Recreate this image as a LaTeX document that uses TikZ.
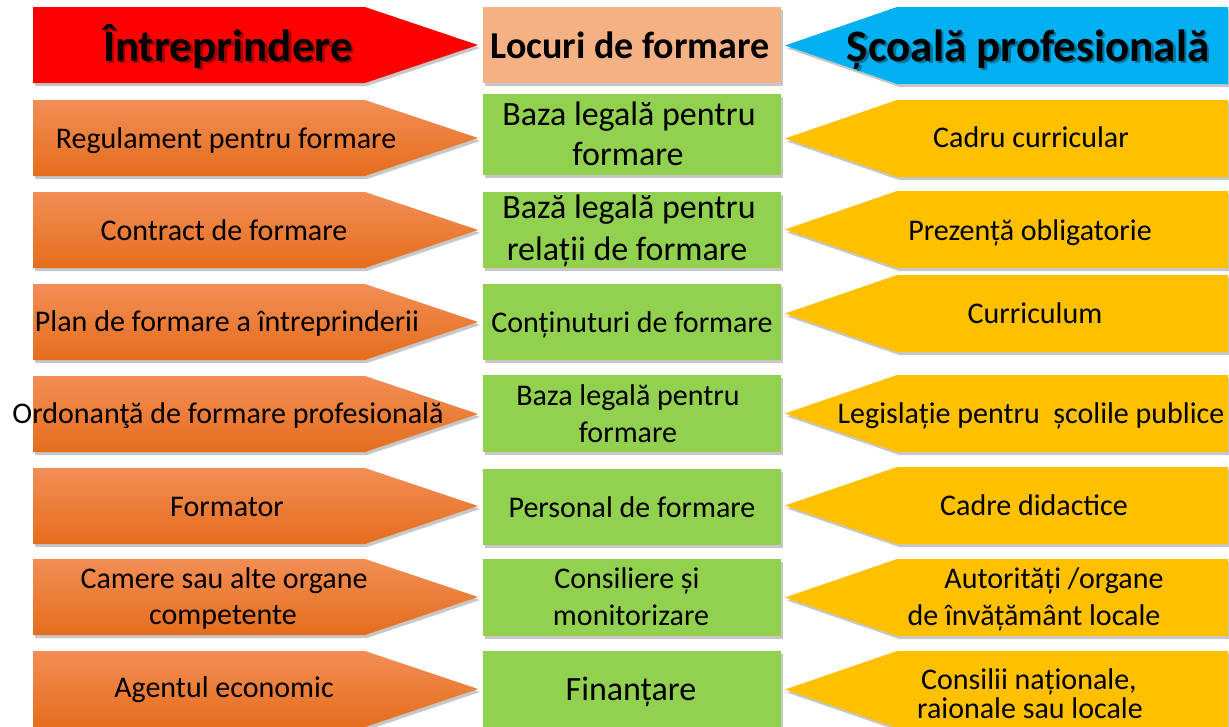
\documentclass[tikz,border=0pt]{standalone}
\usepackage{fontspec}
\setmainfont{Carlito}
\definecolor{hdrred}{HTML}{FF0000}
\definecolor{hdrblue}{HTML}{00B0F0}
\definecolor{hdrpeach}{HTML}{F4B183}
\definecolor{midgreen}{HTML}{92D050}
\definecolor{rgtyellow}{HTML}{FFC000}
\definecolor{orgtop}{HTML}{F28E55}
\definecolor{orgbot}{HTML}{E56D1D}
\tikzset{
  orangefill/.style={top color=orgtop, bottom color=orgbot},
  yellowfill/.style={fill=rgtyellow},
  greenfill/.style={fill=midgreen},
  shadowfill/.style={fill=black, opacity=0.22},
  txt/.style={anchor=base, inner sep=0pt, font=\fontsize{30}{36}\selectfont},
  bigtxt/.style={anchor=base, inner sep=0pt, font=\fontsize{34}{40}\selectfont},
  hdrtxt/.style={anchor=base, inner sep=0pt, font=\fontsize{45}{50}\selectfont\bfseries},
  midhdrtxt/.style={anchor=base, inner sep=0pt, font=\fontsize{38}{44}\selectfont\bfseries},
  hdrshadow/.style={text=black, text opacity=0.35}
}
% left pentagon: #1 top, #2 fill style
\newcommand\lpent[2]{%
  \fill[shadowfill] (35,#1+3) -- (367,#1+3) -- (480,#1+41) -- (367,#1+79) -- (35,#1+79) -- cycle;
  \path[#2] (33,#1) -- (365,#1) -- (478,#1+38) -- (365,#1+76) -- (33,#1+76) -- cycle;}
% right pentagon
\newcommand\rpent[2]{%
  \fill[shadowfill] (787,#1+41.5) -- (899,#1+3) -- (1230,#1+3) -- (1230,#1+80) -- (899,#1+80) -- cycle;
  \path[#2] (785,#1+38.5) -- (897,#1) -- (1228,#1) -- (1228,#1+77) -- (897,#1+77) -- cycle;}
% middle box: #1 top, #2 height, #3 fill
\newcommand\midbox[3]{%
  \fill[shadowfill] (485,#1+3) rectangle (783,#1+#2+3);
  \path[#3] (483,#1) rectangle (781,#1+#2);}
\begin{document}
\begin{tikzpicture}[x=1pt,y=-1pt]
\useasboundingbox (0,0) rectangle (1229,726);
\fill[white] (0,0) rectangle (1229,726);
% headers
\lpent{7}{fill=hdrred}
\midbox{7}{76}{fill=hdrpeach}
\rpent{7}{fill=hdrblue}
\node[hdrtxt,hdrshadow] (hlS) at (230.5,63.5) {Întreprindere};
\node[hdrtxt] (hl) at (228,61) {Întreprindere};
\node[midhdrtxt] (hm) at (630,58) {Locuri de formare};
\node[hdrtxt,hdrshadow] (hrS) at (1030.5,63.5) {Școală profesională};
\node[hdrtxt] (hr) at (1028,61) {Școală profesională};
% left column
\lpent{100}{orangefill}
\lpent{192}{orangefill}
\lpent{284}{orangefill}
\lpent{376}{orangefill}
\lpent{468}{orangefill}
\lpent{559}{orangefill}
\lpent{651}{orangefill}
% middle column
\midbox{94}{81}{greenfill}
\midbox{192}{76}{greenfill}
\midbox{284}{76}{greenfill}
\midbox{375}{77}{greenfill}
\midbox{469}{76}{greenfill}
\midbox{559}{77}{greenfill}
\midbox{651}{77}{greenfill}
% right column
\rpent{100}{yellowfill}
\rpent{191}{yellowfill}
\rpent{275}{yellowfill}
\rpent{375}{yellowfill}
\rpent{467}{yellowfill}
\rpent{559}{yellowfill}
\rpent{651}{yellowfill}
% left texts
\node[txt] (l1) at (226,148) {Regulament pentru formare};
\node[txt] (l2) at (224,240) {Contract de formare};
\node[txt] (l3) at (227,331) {Plan de formare a întreprinderii};
\node[txt] (l4) at (228,423) {Ordonanţă de formare profesională};
\node[txt] (l5) at (227,516) {Formator};
\node[txt] (l6a) at (224,588) {Camere sau alte organe};
\node[txt] (l6b) at (223,624) {competente};
\node[txt] (l7) at (224,697) {Agentul economic};
% middle texts
\node[bigtxt] (m1a) at (629,125) {Baza legală pentru};
\node[bigtxt] (m1b) at (628,165) {formare};
\node[bigtxt] (m2a) at (629,218) {Bază legală pentru};
\node[bigtxt] (m2b) at (627,260) {relații de formare};
\node[txt] (m3) at (632,332) {Conținuturi de formare};
\node[txt] (m4a) at (628,405) {Baza legală pentru};
\node[txt] (m4b) at (628,442) {formare};
\node[txt] (m5) at (632,517) {Personal de formare};
\node[txt] (m6a) at (627,588) {Consiliere și};
\node[txt] (m6b) at (631,625) {monitorizare};
\node[bigtxt] (m7) at (631,700) {Finanțare};
% right texts
\node[txt] (r1) at (1031,147) {Cadru curricular};
\node[txt] (r2) at (1030,240) {Prezență obligatorie};
\node[txt] (r3) at (1035,323) {Curriculum};
\node[txt] (r4) at (1031,423) {Legislație pentru\hspace{0.45em}școlile publice};
\node[txt] (r5) at (1034,515) {Cadre didactice};
\node[txt] (r6a) at (1054,588) {Autorități /organe};
\node[txt] (r6b) at (1034,625) {de învățământ locale};
\node[txt] (r7a) at (1029,689) {Consilii naționale,};
\node[txt] (r7b) at (1030,718) {raionale sau locale};
\end{tikzpicture}
\end{document}
